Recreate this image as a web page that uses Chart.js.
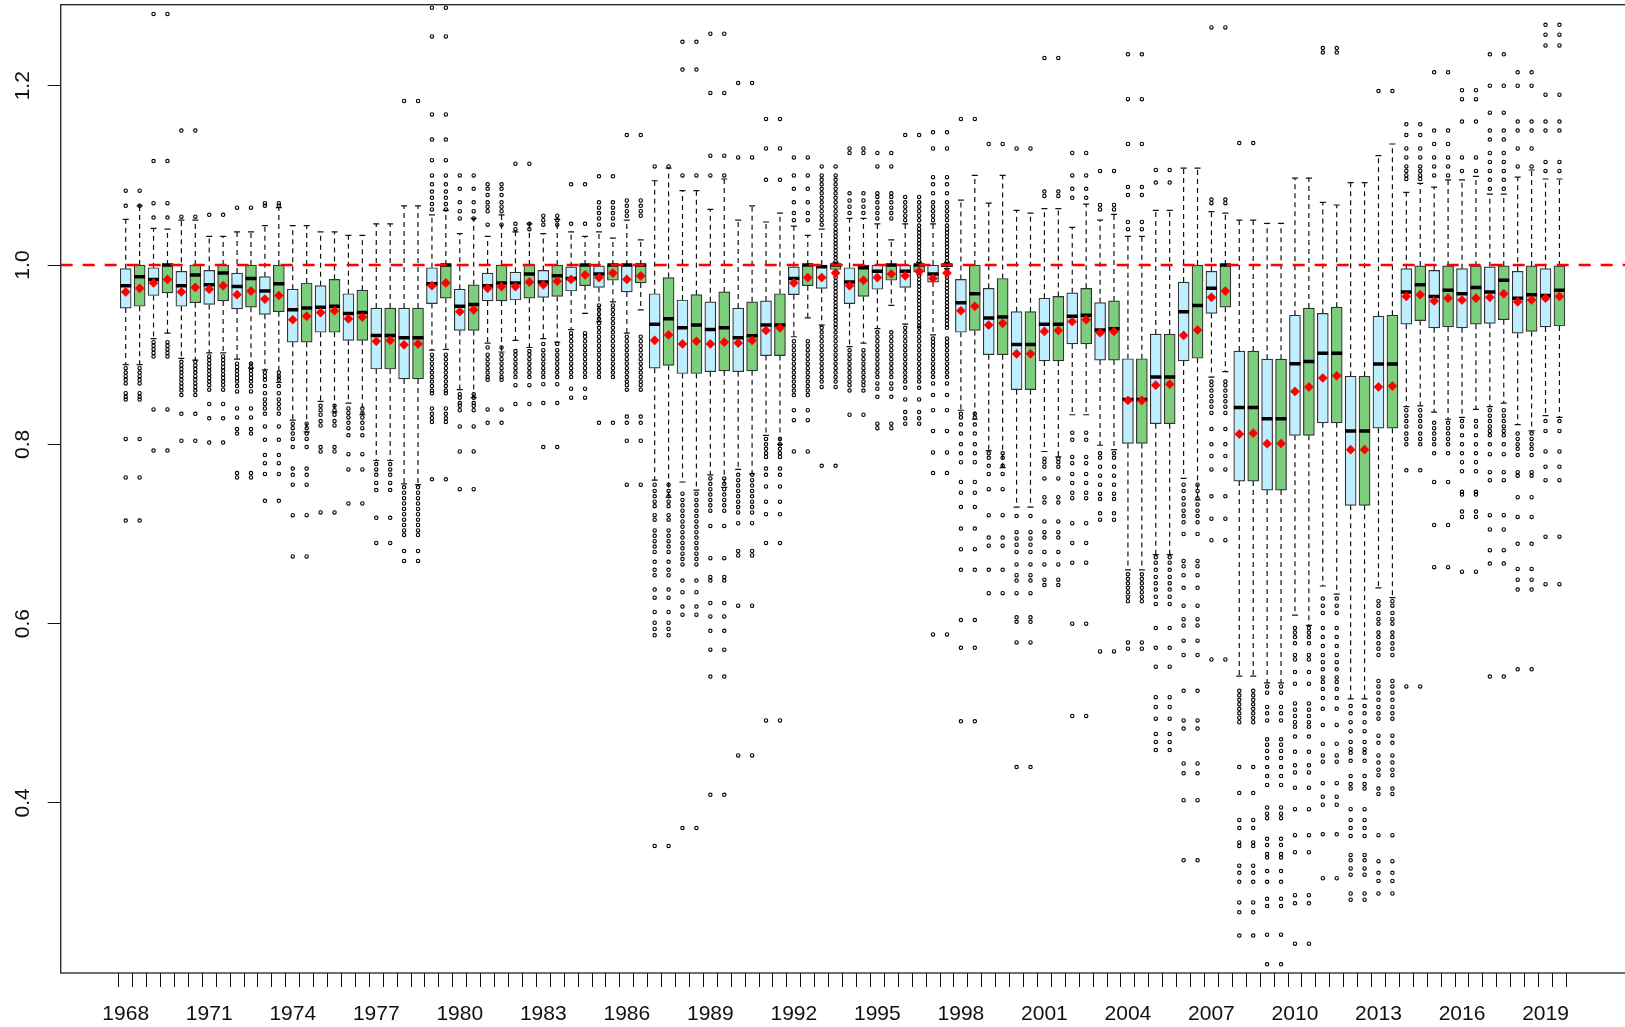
<!DOCTYPE html>
<html>
<head>
<meta charset="utf-8">
<script src="https://cdn.jsdelivr.net/npm/chart.js@4.4.1/dist/chart.umd.min.js"></script>
<style>
  html, body { margin: 0; padding: 0; background: #fff; }
  #wrap { width: 1625px; height: 1027px; position: relative; }
</style>
</head>
<body>
<div id="wrap"><canvas id="myBoxChart"></canvas></div>
<script>
// Box data-----------------------------------------------------------------------------------------------------------------------------------------------

//---x-axis (one blue box and one green box per year)
var years = [ 1968, 1969, 1970, 1971, 1972, 1973, 1974, 1975, 1976, 1977, 1978, 1979, 1980, 1981, 1982, 1983, 1984,
  1985, 1986, 1987, 1988, 1989, 1990, 1991, 1992, 1993, 1994, 1995, 1996, 1997, 1998, 1999, 2000, 2001,
  2002, 2003, 2004, 2005, 2006, 2007, 2008, 2009, 2010, 2011, 2012, 2013, 2014, 2015, 2016, 2017, 2018, 2019 ]

//---y-axis
var yTicks = [ 0.4, 0.6, 0.8, 1.0, 1.2 ]

//---boxes, in pairs (blue, green) per year
var q3 = [ 0.996,1.0, 0.997,1.0, 0.993,1.0, 0.994,1.0, 0.991,1.0, 0.987,1.0, 0.973,0.980, 0.977,0.984, 0.968,0.972,
  0.952,0.952, 0.952,0.952, 0.997,1.0, 0.973,0.978, 0.991,1.0, 0.992,1.0, 0.994,1.0, 0.998,1.0, 0.999,1.0, 1.0,1.0,
  0.968,0.986, 0.961,0.967, 0.959,0.970, 0.952,0.959, 0.960,0.968, 0.998,1.0, 1.0,1.0, 0.997,1.0, 1.0,1.0, 1.0,1.0,
  1.0,1.0, 0.984,1.0, 0.974,0.985, 0.948,0.948, 0.963,0.965, 0.969,0.974, 0.958,0.960, 0.8955,0.8955, 0.923,0.923,
  0.981,1.0, 0.993,1.0, 0.904,0.904, 0.895,0.895, 0.944,0.952, 0.946,0.953, 0.876,0.876, 0.943,0.944, 0.996,0.999,
  0.994,0.999, 0.996,0.999, 0.998,0.999, 0.993,0.999, 0.996,0.999 ]

var q1 = [ 0.952,0.954, 0.966,0.969, 0.954,0.958, 0.956,0.960, 0.951,0.953, 0.945,0.948, 0.914,0.914, 0.925,0.925,
  0.916,0.916, 0.884,0.884, 0.873,0.873, 0.957,0.963, 0.927,0.927, 0.960,0.960, 0.961,0.963, 0.964,0.965, 0.971,0.977,
  0.975,0.983, 0.970,0.980, 0.885,0.888, 0.879,0.879, 0.881,0.882, 0.881,0.882, 0.899,0.899, 0.967,0.977, 0.974,0.995,
  0.957,0.965, 0.973,0.983, 0.975,0.992, 0.981,0.998, 0.925,0.927, 0.900,0.900, 0.861,0.861, 0.893,0.893, 0.912,0.912,
  0.894,0.894, 0.801,0.801, 0.823,0.823, 0.893,0.896, 0.946,0.953, 0.759,0.759, 0.749,0.749, 0.810,0.810, 0.824,0.824,
  0.732,0.732, 0.818,0.818, 0.934,0.938, 0.930,0.931, 0.930,0.934, 0.935,0.939, 0.924,0.926, 0.931,0.932 ]

var med = [ 0.977,0.987, 0.984,1.0, 0.977,0.989, 0.978,0.991, 0.976,0.985, 0.971,0.979, 0.950,0.952, 0.953,0.954,
  0.946,0.947, 0.9215,0.9215, 0.919,0.919, 0.979,1.0, 0.954,0.956, 0.977,0.980, 0.980,0.990, 0.981,0.988, 0.985,1.0,
  0.990,1.0, 1.0,1.0, 0.934,0.940, 0.930,0.933, 0.928,0.930, 0.919,0.921, 0.933,0.933, 0.985,1.0, 0.998,1.0,
  0.981,0.997, 0.993,1.0, 0.993,1.0, 0.990,1.0, 0.958,0.968, 0.941,0.942, 0.9115,0.9115, 0.934,0.934, 0.943,0.944,
  0.9275,0.929, 0.850,0.850, 0.875,0.875, 0.948,0.955, 0.974,1.0, 0.841,0.841, 0.8286,0.8286, 0.890,0.8925,
  0.9015,0.9015, 0.815,0.815, 0.8896,0.8896, 0.970,0.978, 0.965,0.972, 0.968,0.975, 0.970,0.983, 0.963,0.967, 0.966,0.972 ]

var means = [ 0.970,0.974, 0.980,0.984, 0.970,0.975, 0.973,0.977, 0.967,0.971, 0.962,0.966, 0.939,0.943, 0.947,0.949,
  0.940,0.942, 0.915,0.916, 0.911,0.912, 0.977,0.980, 0.948,0.950, 0.974,0.976, 0.976,0.981, 0.978,0.982, 0.984,0.989,
  0.986,0.991, 0.984,0.988, 0.916,0.922, 0.912,0.915, 0.912,0.914, 0.913,0.916, 0.927,0.930, 0.980,0.986, 0.986,0.991,
  0.977,0.983, 0.986,0.990, 0.988,0.993, 0.985,0.991, 0.949,0.954, 0.933,0.935, 0.901,0.901, 0.926,0.927, 0.937,0.939,
  0.9245,0.926, 0.849,0.849, 0.866,0.867, 0.9215,0.9275, 0.964,0.971, 0.8115,0.8125, 0.8007,0.801, 0.859,0.864,
  0.874,0.8765, 0.794,0.794, 0.864,0.865, 0.965,0.967, 0.960,0.963, 0.961,0.963, 0.964,0.968, 0.959,0.961, 0.963,0.965 ]

var whiskHi = [ 1.051,1.066, 1.041,1.040, 1.050,1.050, 1.032,1.032, 1.037,1.037, 1.044,1.064, 1.044,1.044, 1.037,1.037,
  1.033,1.033, 1.046,1.046, 1.066,1.066, 1.056,1.061, 1.035,1.052, 1.032,1.056, 1.037,1.046, 1.035,1.051, 1.037,1.032,
  1.037,1.030, 1.050,1.028, 1.094,1.108, 1.083,1.083, 1.062,1.096, 1.050,1.066, 1.048,1.058, 1.0435,1.033, 1.040,1.003,
  1.052,1.052, 1.046,1.028, 1.046,1.003, 1.046,1.003, 1.0725,1.100, 1.069,1.100, 1.061,1.058, 1.063,1.063, 1.042,1.068,
  1.050,1.0565, 1.032,1.032, 1.061,1.061, 1.108,1.108, 1.0595,1.058, 1.050,1.050, 1.0465,1.0465, 1.097,1.097,
  1.070,1.067, 1.092,1.092, 1.122,1.135, 1.081,1.091, 1.087,1.095, 1.095,1.099, 1.079,1.079, 1.098,1.106, 1.096,1.096 ]

var whiskLo = [ 0.889,0.889, 0.918,0.924, 0.896,0.894, 0.902,0.902, 0.895,0.885, 0.883,0.869, 0.827,0.814, 0.848,0.836,
  0.846,0.833, 0.782,0.782, 0.756,0.755, 0.905,0.906, 0.861,0.852, 0.913,0.903, 0.916,0.908, 0.918,0.914, 0.928,0.946,
  0.937,0.959, 0.924,0.950, 0.760,0.741, 0.758,0.749, 0.766,0.752, 0.772,0.767, 0.810,0.800, 0.920,0.941, 0.933,0.993,
  0.909,0.913, 0.929,0.955, 0.934,0.990, 0.922,0.996, 0.838,0.828, 0.793,0.774, 0.730,0.730, 0.792,0.786, 0.833,0.833,
  0.799,0.794, 0.660,0.660, 0.677,0.677, 0.762,0.738, 0.875,0.881, 0.5415,0.5415, 0.534,0.534, 0.6095,0.598,
  0.642,0.633, 0.516,0.516, 0.640,0.629, 0.842,0.843, 0.836,0.828, 0.830,0.839, 0.842,0.846, 0.822,0.815, 0.832,0.830 ]

//---outliers per year (same points appear over both boxes of a year)
var highOut = [
  [1.066, 1.083], [1.053, 1.069, 1.116, 1.28], [1.054, 1.15], [1.056], [1.064], [1.066, 1.069],
  [], [], [], [], [1.183],
  [1.062, 1.068, 1.075, 1.082, 1.09, 1.1, 1.117, 1.14, 1.168, 1.255, 1.287],
  [1.052, 1.06, 1.07, 1.085, 1.1],
  [1.045, 1.06, 1.065, 1.07, 1.078, 1.085, 1.09],
  [1.04, 1.046, 1.113],
  [1.045, 1.05, 1.055],
  [1.046, 1.09],
  [1.045, 1.052, 1.058, 1.064, 1.07, 1.099],
  [1.055, 1.06, 1.066, 1.072, 1.145],
  [1.11],
  [1.1, 1.218, 1.249],
  [1.1, 1.122, 1.192, 1.258],
  [1.12, 1.203],
  [1.095, 1.13, 1.163],
  [1.05, 1.058, 1.07, 1.085, 1.1, 1.12],
  [1.045, 1.05, 1.055, 1.06, 1.065, 1.07, 1.075, 1.08, 1.085, 1.09, 1.095, 1.1, 1.11],
  [1.058, 1.065, 1.072, 1.08, 1.125, 1.13],
  [1.052, 1.058, 1.064, 1.07, 1.076, 1.08, 1.11, 1.125],
  [1.05, 1.055, 1.06, 1.065, 1.07, 1.076, 1.145],
  [1.05, 1.055, 1.06, 1.065, 1.07, 1.08, 1.09, 1.098, 1.13, 1.148],
  [1.163],
  [1.135],
  [1.13],
  [1.077, 1.082, 1.231],
  [1.075, 1.085, 1.1, 1.125],
  [1.062, 1.067, 1.105],
  [1.04, 1.048, 1.078, 1.087, 1.135, 1.185, 1.235],
  [1.092, 1.106],
  [],
  [1.069, 1.073, 1.265],
  [1.136],
  [],
  [],
  [1.237, 1.242],
  [],
  [1.194],
  [1.096, 1.1, 1.105, 1.11, 1.12, 1.13, 1.145, 1.157],
  [1.1, 1.11, 1.12, 1.135, 1.15, 1.215],
  [1.105, 1.12, 1.16, 1.185, 1.195],
  [1.085, 1.095, 1.105, 1.115, 1.125, 1.14, 1.15, 1.17, 1.2, 1.235],
  [1.11, 1.13, 1.15, 1.16, 1.2, 1.215],
  [1.105, 1.115, 1.15, 1.16, 1.19, 1.245, 1.257, 1.268]
]

var lowOut = [
  [0.885, 0.88, 0.876, 0.872, 0.868, 0.857, 0.853, 0.85, 0.806, 0.763, 0.715],
  [0.914, 0.91, 0.906, 0.902, 0.898, 0.839, 0.793],
  [0.892, 0.888, 0.884, 0.88, 0.876, 0.872, 0.868, 0.864, 0.86, 0.855, 0.834, 0.804],
  [0.898, 0.894, 0.89, 0.886, 0.882, 0.878, 0.874, 0.87, 0.866, 0.861, 0.845, 0.829, 0.802],
  [0.89, 0.886, 0.882, 0.878, 0.874, 0.87, 0.865, 0.859, 0.84, 0.83, 0.817, 0.812, 0.768, 0.763],
  [0.88, 0.876, 0.872, 0.865, 0.857, 0.85, 0.845, 0.84, 0.834, 0.82, 0.805, 0.788, 0.779, 0.767, 0.737],
  [0.823, 0.818, 0.812, 0.806, 0.797, 0.773, 0.766, 0.755, 0.721, 0.675],
  [0.843, 0.838, 0.833, 0.826, 0.821, 0.797, 0.792, 0.724],
  [0.84, 0.835, 0.83, 0.824, 0.818, 0.81, 0.789, 0.772, 0.734],
  [0.778, 0.772, 0.766, 0.757, 0.749, 0.718, 0.69],
  [0.752, 0.746, 0.74, 0.734, 0.728, 0.722, 0.716, 0.71, 0.704, 0.699, 0.681, 0.67],
  [0.9, 0.895, 0.89, 0.885, 0.88, 0.875, 0.87, 0.865, 0.86, 0.857, 0.84, 0.834, 0.829, 0.825, 0.761],
  [0.856, 0.852, 0.846, 0.843, 0.838, 0.82, 0.792, 0.75],
  [0.908, 0.9, 0.895, 0.89, 0.885, 0.88, 0.875, 0.872, 0.839, 0.824],
  [0.904, 0.9, 0.895, 0.89, 0.885, 0.88, 0.875, 0.866, 0.845],
  [0.912, 0.905, 0.9, 0.895, 0.89, 0.885, 0.88, 0.875, 0.867, 0.846, 0.797],
  [0.924, 0.92, 0.915, 0.91, 0.905, 0.9, 0.895, 0.89, 0.885, 0.88, 0.875, 0.862, 0.852],
  [0.955, 0.95, 0.945, 0.94, 0.935, 0.93, 0.925, 0.92, 0.915, 0.91, 0.905, 0.9, 0.895, 0.89, 0.885, 0.88, 0.875, 0.824],
  [0.92, 0.915, 0.91, 0.905, 0.9, 0.895, 0.89, 0.885, 0.88, 0.875, 0.87, 0.866, 0.861, 0.831, 0.824, 0.804, 0.755],
  [0.755, 0.748, 0.742, 0.736, 0.731, 0.721, 0.716, 0.704, 0.698, 0.692, 0.686, 0.68, 0.669, 0.66, 0.654, 0.638, 0.629, 0.613, 0.601, 0.594, 0.587, 0.352],
  [0.745, 0.738, 0.732, 0.726, 0.72, 0.714, 0.708, 0.702, 0.696, 0.69, 0.684, 0.678, 0.672, 0.666, 0.648, 0.635, 0.619, 0.61, 0.372],
  [0.762, 0.756, 0.75, 0.744, 0.738, 0.732, 0.726, 0.709, 0.673, 0.652, 0.648, 0.623, 0.608, 0.592, 0.571, 0.541, 0.409],
  [0.766, 0.76, 0.754, 0.748, 0.742, 0.736, 0.73, 0.724, 0.712, 0.681, 0.676, 0.62, 0.453],
  [0.806, 0.8, 0.795, 0.79, 0.786, 0.773, 0.766, 0.753, 0.736, 0.722, 0.69, 0.492],
  [0.915, 0.91, 0.905, 0.9, 0.895, 0.89, 0.885, 0.88, 0.875, 0.87, 0.865, 0.86, 0.855, 0.838, 0.827, 0.792],
  [0.93, 0.925, 0.92, 0.915, 0.91, 0.905, 0.9, 0.895, 0.89, 0.885, 0.88, 0.875, 0.87, 0.864, 0.776],
  [0.905, 0.9, 0.895, 0.89, 0.885, 0.88, 0.875, 0.87, 0.866, 0.86, 0.833],
  [0.925, 0.92, 0.915, 0.91, 0.905, 0.9, 0.895, 0.89, 0.885, 0.88, 0.875, 0.868, 0.862, 0.853, 0.823, 0.818],
  [0.93, 0.925, 0.92, 0.915, 0.91, 0.905, 0.9, 0.895, 0.89, 0.885, 0.88, 0.875, 0.87, 0.863, 0.85, 0.836, 0.829, 0.823],
  [0.918, 0.914, 0.91, 0.905, 0.9, 0.895, 0.89, 0.885, 0.88, 0.875, 0.868, 0.855, 0.838, 0.815, 0.791, 0.768, 0.588],
  [0.834, 0.83, 0.822, 0.812, 0.8, 0.79, 0.78, 0.758, 0.746, 0.73, 0.706, 0.683, 0.66, 0.604, 0.573, 0.491],
  [0.79, 0.785, 0.776, 0.767, 0.75, 0.721, 0.696, 0.687, 0.66, 0.634],
  [0.72, 0.702, 0.695, 0.688, 0.68, 0.666, 0.654, 0.648, 0.634, 0.607, 0.602, 0.579, 0.44],
  [0.784, 0.78, 0.775, 0.762, 0.741, 0.735, 0.714, 0.702, 0.696, 0.68, 0.666, 0.649, 0.643],
  [0.813, 0.805, 0.786, 0.779, 0.767, 0.757, 0.746, 0.74, 0.712, 0.69, 0.668, 0.6, 0.497],
  [0.79, 0.785, 0.775, 0.765, 0.755, 0.745, 0.739, 0.723, 0.716, 0.569],
  [0.655, 0.65, 0.645, 0.64, 0.635, 0.63, 0.625, 0.579, 0.572],
  [0.674, 0.668, 0.66, 0.652, 0.645, 0.638, 0.63, 0.622, 0.595, 0.573, 0.552, 0.518, 0.507, 0.494, 0.477, 0.468, 0.459],
  [0.755, 0.748, 0.74, 0.733, 0.726, 0.72, 0.713, 0.7, 0.67, 0.664, 0.654, 0.64, 0.62, 0.605, 0.598, 0.581, 0.565, 0.525, 0.492, 0.483, 0.444, 0.433, 0.403, 0.336],
  [0.87, 0.866, 0.86, 0.854, 0.848, 0.842, 0.835, 0.817, 0.8, 0.787, 0.772, 0.742, 0.717, 0.693, 0.56],
  [0.525, 0.52, 0.515, 0.51, 0.505, 0.5, 0.495, 0.49, 0.44, 0.411, 0.381, 0.372, 0.356, 0.352, 0.33, 0.322, 0.312, 0.289, 0.278, 0.252],
  [0.53, 0.523, 0.507, 0.5, 0.492, 0.471, 0.465, 0.458, 0.45, 0.44, 0.43, 0.42, 0.395, 0.388, 0.383, 0.36, 0.353, 0.343, 0.339, 0.324, 0.312, 0.293, 0.285, 0.253, 0.22],
  [0.595, 0.59, 0.585, 0.578, 0.565, 0.56, 0.546, 0.533, 0.511, 0.504, 0.497, 0.49, 0.485, 0.474, 0.457, 0.442, 0.434, 0.417, 0.393, 0.364, 0.345, 0.297, 0.288, 0.243],
  [0.628, 0.62, 0.612, 0.595, 0.585, 0.575, 0.565, 0.557, 0.549, 0.54, 0.535, 0.527, 0.517, 0.505, 0.487, 0.466, 0.453, 0.446, 0.422, 0.407, 0.398, 0.365, 0.316],
  [0.508, 0.5, 0.49, 0.48, 0.468, 0.46, 0.456, 0.447, 0.43, 0.421, 0.416, 0.393, 0.381, 0.372, 0.363, 0.342, 0.336, 0.327, 0.32, 0.299, 0.292],
  [0.625, 0.62, 0.612, 0.605, 0.6, 0.59, 0.585, 0.578, 0.572, 0.565, 0.536, 0.53, 0.523, 0.515, 0.507, 0.5, 0.494, 0.475, 0.467, 0.453, 0.445, 0.437, 0.431, 0.416, 0.41, 0.364, 0.335, 0.322, 0.313, 0.299],
  [0.838, 0.832, 0.826, 0.82, 0.812, 0.806, 0.8, 0.771, 0.53],
  [0.824, 0.818, 0.812, 0.806, 0.8, 0.79, 0.758, 0.71, 0.663],
  [0.826, 0.82, 0.81, 0.8, 0.79, 0.78, 0.77, 0.747, 0.744, 0.725, 0.719, 0.658],
  [0.838, 0.832, 0.826, 0.82, 0.815, 0.81, 0.8, 0.789, 0.769, 0.76, 0.721, 0.705, 0.682, 0.667, 0.541],
  [0.812, 0.806, 0.8, 0.795, 0.788, 0.769, 0.765, 0.741, 0.719, 0.689, 0.661, 0.649, 0.638, 0.549],
  [0.826, 0.815, 0.792, 0.775, 0.76, 0.697, 0.644]
]

//---extra outliers for the three very narrow boxes (1993, 1996, 1997 green)
var extraBox = [ 51, 57, 59 ]
var extraOut = [
  [1.004, 1.008, 1.012, 1.016, 1.02, 1.024, 1.028, 1.032, 1.036, 1.04,
   0.99, 0.986, 0.982, 0.978, 0.974, 0.97, 0.966, 0.962, 0.958, 0.954, 0.95, 0.946, 0.942, 0.938, 0.934],
  [1.004, 1.008, 1.012, 1.016, 1.02, 1.024, 1.028, 1.032, 1.036, 1.04, 1.044,
   0.988, 0.984, 0.98, 0.976, 0.972, 0.968, 0.964, 0.96, 0.956, 0.952, 0.948, 0.944, 0.94, 0.936, 0.932],
  [1.004, 1.008, 1.012, 1.016, 1.02, 1.024, 1.028, 1.032, 1.036, 1.04, 1.044,
   0.994, 0.99, 0.986, 0.982, 0.978, 0.974, 0.97, 0.966, 0.962, 0.958, 0.954, 0.95, 0.946, 0.942, 0.938, 0.934, 0.93]
]

var refValue = 1.0

// Box data-----------------------------------------------------------------------------------------------------------------------------------------------

// build chart points from the arrays
var xMin = -4.67, xMax = 107.71;
var yMin = 0.2103, yMax = 1.2904;

var boxBlue = [], boxGreen = [], medPts = [], meanPts = [], capPts = [], whiskPts = [], outPts = [];
for (var i = 0; i < q1.length; i++) {
  var b = { x: i, y: [q1[i], q3[i]] };
  if (i % 2 === 0) boxBlue.push(b); else boxGreen.push(b);
  medPts.push({ x: i, y: med[i] });
  meanPts.push({ x: i, y: means[i] });
  capPts.push({ x: i, y: whiskHi[i] }, { x: i, y: whiskLo[i] });
  whiskPts.push({ x: i, y: q3[i] }, { x: i, y: whiskHi[i] }, { x: i, y: null },
                { x: i, y: q1[i] }, { x: i, y: whiskLo[i] }, { x: i, y: null });
}
for (var j = 0; j < years.length; j++) {
  var vals = lowOut[j].concat(highOut[j]);
  for (var k = 0; k < vals.length; k++) {
    outPts.push({ x: 2 * j, y: vals[k] }, { x: 2 * j + 1, y: vals[k] });
  }
}
for (var e = 0; e < extraBox.length; e++) {
  for (var k2 = 0; k2 < extraOut[e].length; k2++) outPts.push({ x: extraBox[e], y: extraOut[e][k2] });
}

var FONT = "'Liberation Sans', Arial, Helvetica, sans-serif";

// frame + rotated y labels, placed with the y scale
var framePlugin = {
  id: 'frame',
  afterDraw: function (chart) {
    var c = chart.ctx, a = chart.chartArea, ys = chart.scales.y;
    c.save();
    c.strokeStyle = '#222';
    c.lineWidth = 1.3;
    c.strokeRect(a.left, a.top, a.right - a.left + 10, a.bottom - a.top);
    c.fillStyle = '#111';
    c.font = '21px ' + FONT;
    c.textAlign = 'center';
    c.textBaseline = 'middle';
    yTicks.forEach(function (v) {
      c.save();
      c.translate(23.5, ys.getPixelForValue(v));
      c.rotate(-Math.PI / 2);
      c.fillText(v.toFixed(1), 0, 0);
      c.restore();
    });
    c.restore();
  }
};

var ctx = document.getElementById('myBoxChart');

var myBoxChart = new Chart(ctx, {
  type: 'scatter',
  data: {
    datasets: [
      { type: 'line', data: [ { x: xMin, y: refValue }, { x: xMax, y: refValue } ], borderColor: '#ff0000',
        borderWidth: 2.6, borderDash: [12, 10], pointRadius: 0, order: 2 },
      { type: 'scatter', data: meanPts, pointStyle: 'rectRot', pointRadius: 4.6, backgroundColor: '#ff0000',
        borderColor: '#ff0000', borderWidth: 0.5, order: 1 },
      { type: 'scatter', data: outPts, pointStyle: 'circle', pointRadius: 1.7, backgroundColor: 'rgba(255,255,255,0)',
        borderColor: '#000', borderWidth: 1.1, order: 3 },
      { type: 'scatter', data: medPts, pointStyle: 'line', pointRadius: 5.5, borderColor: '#000', borderWidth: 3.5, order: 4 },
      { type: 'bar', data: boxBlue, backgroundColor: '#bfefff', borderColor: '#333', borderWidth: 1.2,
        borderSkipped: false, barThickness: 11, grouped: false, order: 5 },
      { type: 'bar', data: boxGreen, backgroundColor: '#7ccd7c', borderColor: '#333', borderWidth: 1.2,
        borderSkipped: false, barThickness: 11, grouped: false, order: 5 },
      { type: 'scatter', data: capPts, pointStyle: 'line', pointRadius: 3, borderColor: '#111', borderWidth: 1.2, order: 6 },
      { type: 'line', data: whiskPts, borderColor: '#111', borderWidth: 1.2, borderDash: [5, 4], pointRadius: 0,
        spanGaps: false, order: 7 }
    ]
  },
  options: {
    animation: false,
    responsive: true,
    maintainAspectRatio: false,
    events: [],
    layout: { autoPadding: false, padding: { top: 4.7, right: 0, left: 0, bottom: 0 } },
    plugins: { legend: { display: false }, tooltip: { enabled: false } },
    scales: {
      x: {
        type: 'linear', min: xMin, max: xMax, offset: false,
        afterBuildTicks: function (scale) {
          scale.ticks = q1.map(function (v, idx) { return { value: idx }; });
        },
        afterFit: function (scale) { scale.height = 54; },
        border: { display: false },
        grid: { drawOnChartArea: false, drawTicks: true, tickLength: 14, color: '#111', lineWidth: 1 },
        ticks: {
          autoSkip: false, maxRotation: 0, minRotation: 0, padding: 15, color: '#111',
          font: { family: FONT, size: 21 },
          callback: function (value, index) { return index % 6 === 0 ? String(years[index / 2]) : ''; }
        }
      },
      y: {
        type: 'linear', min: yMin, max: yMax, beginAtZero: false,
        afterBuildTicks: function (scale) {
          scale.ticks = yTicks.map(function (v) { return { value: v }; });
        },
        afterFit: function (scale) { scale.width = 60.7; },
        border: { display: false },
        grid: { drawOnChartArea: false, drawTicks: true, tickLength: 13, color: '#111', lineWidth: 1 },
        ticks: { display: false }
      }
    }
  },
  plugins: [framePlugin]
});
</script>
</body>
</html>
